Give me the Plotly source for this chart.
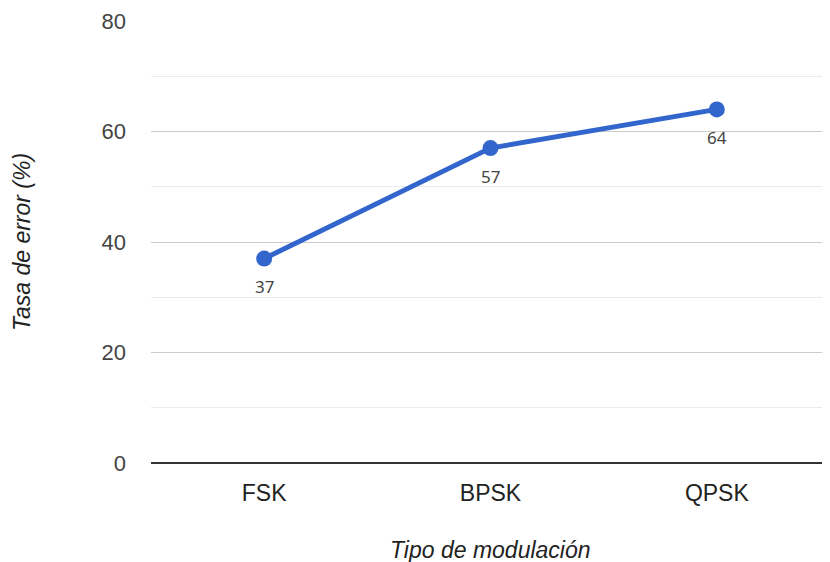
import plotly.graph_objects as go

categories = ["FSK", "BPSK", "QPSK"]
error_rate = [37, 57, 64]
y_ticks = [0, 20, 40, 60, 80]

fig = go.Figure()
fig.add_trace(go.Scatter(
    x=categories, y=error_rate,
    mode="lines+markers",
    line=dict(color="#3366cc", width=5),
    marker=dict(color="#3366cc", size=16),
    cliponaxis=False,
    showlegend=False,
))

for c, v in zip(categories, error_rate):
    fig.add_annotation(
        x=c, y=v, text=str(v), showarrow=False, yshift=-28,
        font=dict(family="Noto Sans, Open Sans, sans-serif", size=17, color="#444444"),
    )

fig.add_annotation(
    xref="paper", yref="paper", x=0.5, y=0, yshift=-87, showarrow=False,
    xanchor="center", yanchor="middle",
    text="<i>Tipo de modulación</i>", font=dict(size=23, color="#222222"),
)
fig.add_annotation(
    xref="paper", yref="paper", x=0, y=0.5, xshift=-129, showarrow=False, textangle=-90,
    xanchor="center", yanchor="middle",
    text="<i>Tasa de error (%)</i>", font=dict(size=23, color="#222222"),
)

fig.update_layout(
    width=822, height=554,
    margin=dict(l=143, r=0, t=13, b=99),
    paper_bgcolor="white", plot_bgcolor="white",
    font=dict(family="Liberation Sans, Arial, sans-serif", color="#444444"),
    xaxis=dict(
        type="category", range=[-0.5, 2.5], automargin=False,
        showgrid=False, showline=False, zeroline=False,
        tickfont=dict(size=23, color="#222222"),
        ticklabelstandoff=14,
    ),
    yaxis=dict(
        range=[0, 80], tickvals=y_ticks, automargin=False,
        showgrid=True, gridcolor="#cccccc", gridwidth=1,
        minor=dict(dtick=10, showgrid=True, gridcolor="#ebebeb", gridwidth=1),
        zeroline=True, zerolinecolor="#333333", zerolinewidth=2,
        showline=False,
        tickfont=dict(size=22, color="#444444"),
        ticklabelstandoff=24,
    ),
)

fig.write_html("out.html")
